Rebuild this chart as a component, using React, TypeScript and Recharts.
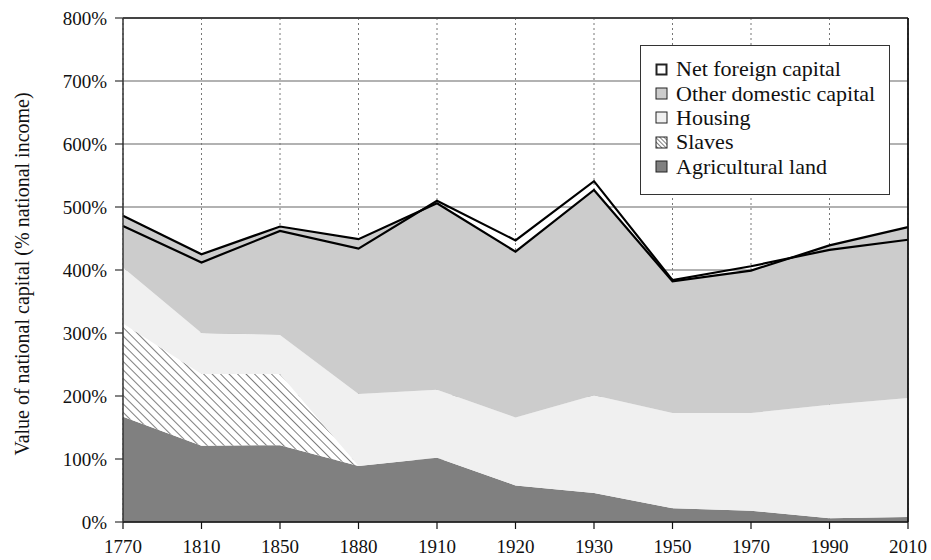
import { AreaChart, Area, XAxis, YAxis, CartesianGrid, ReferenceLine, Legend } from "recharts";

const years = ["1770", "1810", "1850", "1880", "1910", "1920", "1930", "1950", "1970", "1990", "2010"];
const agriculturalLand = [167, 121, 122, 89, 102, 58, 46, 22, 18, 6, 8];
const slaves = [148, 114, 113, 0, 0, 0, 0, 0, 0, 0, 0];
const housing = [89, 65, 62, 114, 108, 108, 155, 151, 155, 180, 189];
const otherDomestic = [82, 125, 172, 246, 296, 263, 326, 209, 226, 253, 271];
const netForeign = [-16, -13, -7, -15, 4, 18, 14, 2, 7, -7, -20];
const yTicks = [0, 100, 200, 300, 400, 500, 600, 700, 800];

const legendItems = [
  { label: "Net foreign capital", fill: "#ffffff", border: 2 },
  { label: "Other domestic capital", fill: "#cccccc", border: 1 },
  { label: "Housing", fill: "#f0f0f0", border: 1 },
  { label: "Slaves", fill: "url(#hatchSmall)", border: 1 },
  { label: "Agricultural land", fill: "#808080", border: 1 },
];

const font = "'Liberation Serif', serif";

const data = years.map((year, i) => ({
  year,
  agri: agriculturalLand[i],
  slaves: slaves[i],
  housing: housing[i],
  other: otherDomestic[i],
  foreign: netForeign[i],
}));

function ChartLegend() {
  return (
    <div
      style={{
        width: 250,
        height: 150,
        border: "1.5px solid #333",
        background: "#fff",
        boxSizing: "border-box",
        padding: "11px 0 0 14px",
        fontFamily: font,
        fontSize: 22,
        color: "#111",
      }}
    >
      {legendItems.map((item) => (
        <div key={item.label} style={{ display: "flex", alignItems: "center", height: 24.4 }}>
          <svg width={13} height={13} style={{ marginRight: 8 }}>
            <defs>
              <pattern id="hatchSmall" patternUnits="userSpaceOnUse" width={3} height={3} patternTransform="rotate(45)">
                <rect width={3} height={3} fill="#fff" />
                <line x1={0} y1={0} x2={3} y2={0} stroke="#000" strokeWidth={1} />
              </pattern>
            </defs>
            <rect
              x={item.border / 2 + 0.5}
              y={item.border / 2 + 0.5}
              width={12 - item.border}
              height={12 - item.border}
              fill={item.fill}
              stroke="#222"
              strokeWidth={item.border}
            />
          </svg>
          <span>{item.label}</span>
        </div>
      ))}
    </div>
  );
}

export default function App() {
  return (
    <div style={{ position: "absolute", left: 0, top: 0, width: 931, height: 560, background: "#fff" }}>
      <AreaChart
        width={931}
        height={560}
        data={data}
        margin={{ top: 18, right: 23, bottom: 0, left: 0 }}
        stackOffset="none"
      >
        <defs>
          <pattern id="hatch" patternUnits="userSpaceOnUse" width={6} height={6} patternTransform="rotate(45)">
            <rect width={6} height={6} fill="#fff" />
            <line x1={0} y1={0} x2={6} y2={0} stroke="#000" strokeWidth={1} />
          </pattern>
        </defs>
        <CartesianGrid vertical={false} stroke="#999" strokeWidth={1.5} />
        <CartesianGrid horizontal={false} stroke="#777" strokeDasharray="2 3" />
        <XAxis
          dataKey="year"
          height={38}
          tickSize={7}
          tickMargin={11}
          axisLine={{ stroke: "#111", strokeWidth: 1.5 }}
          tickLine={{ stroke: "#111", strokeWidth: 1.2 }}
          tick={{ fill: "#111", fontFamily: font, fontSize: 19 }}
        />
        <YAxis
          width={123}
          domain={[0, 800]}
          ticks={yTicks}
          interval={0}
          tickSize={8}
          tickMargin={8}
          tickFormatter={(v) => `${v}%`}
          axisLine={{ stroke: "#333", strokeWidth: 1.5 }}
          tickLine={{ stroke: "#333", strokeWidth: 1.2 }}
          tick={{ fill: "#111", fontFamily: font, fontSize: 19 }}
          label={{
            content: () => (
              <text
                x={22}
                y={274}
                transform="rotate(-90 22 274)"
                textAnchor="middle"
                dominantBaseline="central"
                fill="#111"
                style={{ fontFamily: font }}
                fontSize={20}
              >
                Value of national capital (% national income)
              </text>
            ),
          }}
        />
        <Area type="linear" dataKey="agri" stackId="1" stroke="none" fill="#808080" fillOpacity={1} isAnimationActive={false} />
        <Area type="linear" dataKey="slaves" stackId="1" stroke="none" fill="url(#hatch)" fillOpacity={1} isAnimationActive={false} />
        <Area type="linear" dataKey="housing" stackId="1" stroke="none" fill="#f0f0f0" fillOpacity={1} isAnimationActive={false} />
        <Area type="linear" dataKey="other" stackId="1" stroke="#000" strokeWidth={2.2} fill="#cccccc" fillOpacity={1} isAnimationActive={false} />
        <Area type="linear" dataKey="foreign" stackId="1" stroke="#000" strokeWidth={2.2} fill="none" isAnimationActive={false} />
        <ReferenceLine y={800} stroke="#444" strokeWidth={1.8} />
        <ReferenceLine x="2010" stroke="#111" strokeWidth={1.8} />
        <Legend
          layout="horizontal"
          verticalAlign="middle"
          align="center"
          content={() => <ChartLegend />}
          wrapperStyle={{ position: "absolute", left: 640, top: 45, width: 250, height: 150 }}
        />
      </AreaChart>
    </div>
  );
}
